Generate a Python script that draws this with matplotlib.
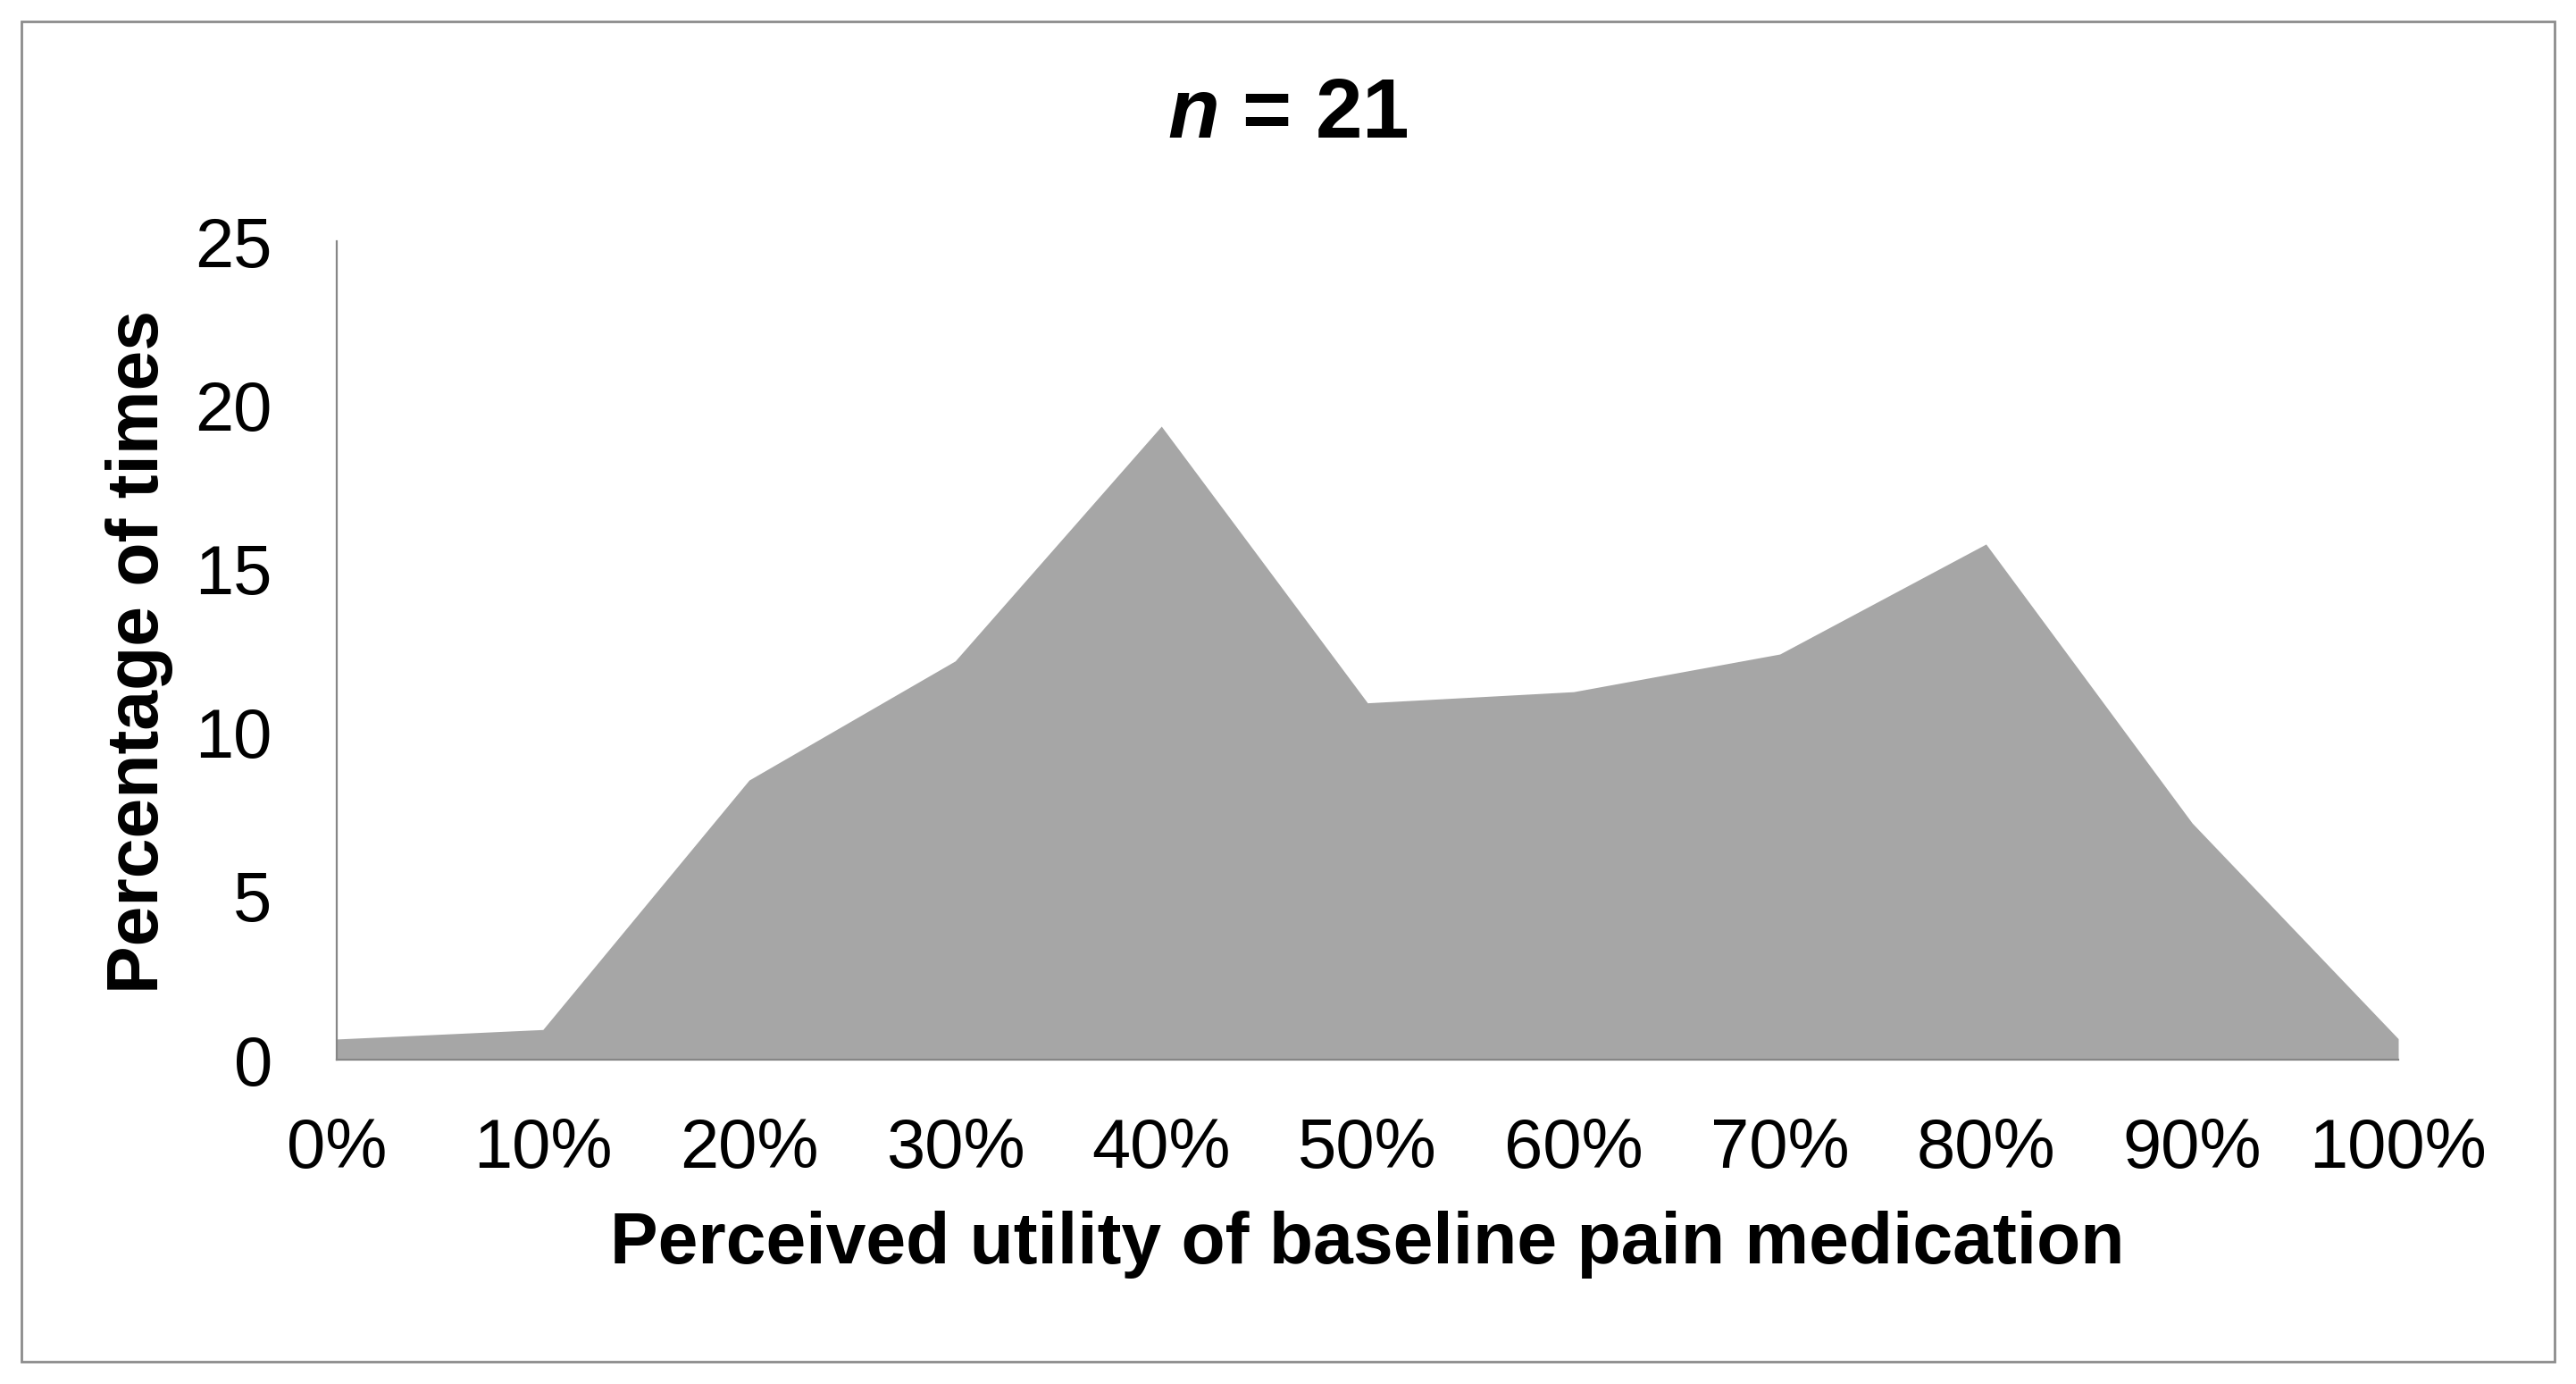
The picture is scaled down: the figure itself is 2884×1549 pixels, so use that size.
import matplotlib
matplotlib.use("Agg")
import matplotlib.pyplot as plt
from matplotlib.patches import Rectangle

plt.rcParams['font.family'] = ['Liberation Sans', 'DejaVu Sans']
plt.rcParams['mathtext.fontset'] = 'custom'
plt.rcParams['mathtext.it'] = 'Liberation Sans:italic:bold'
plt.rcParams['mathtext.rm'] = 'Liberation Sans:bold'

# values
utility = [0, 10, 20, 30, 40, 50, 60, 70, 80, 90, 100]
tick_labels = ['0%', '10%', '20%', '30%', '40%', '50%', '60%', '70%', '80%', '90%', '100%']
pct_times = [0.63, 0.92, 8.54, 12.18, 19.35, 10.9, 11.24, 12.39, 15.75, 7.23, 0.64]
y_ticks = [0, 5, 10, 15, 20, 25]

W, H = 2884, 1549
fig = plt.figure(figsize=(W / 100, H / 100), dpi=100)
ax = fig.add_axes([377 / W, 1 - 1186 / H, (2685 - 377) / W, (1186 - 270) / H])

ax.fill_between(utility, pct_times, 0, color='#a6a6a6', linewidth=0)

ax.set_xlim(0, 100)
ax.set_ylim(0, 25)
ax.set_xticks(utility)
ax.set_xticklabels(tick_labels)
ax.set_yticks(y_ticks)
ax.tick_params(axis='both', length=0, labelsize=56, colors='black')
ax.tick_params(axis='x', pad=46)
ax.tick_params(axis='y', pad=52)

for s in ['top', 'right']:
    ax.spines[s].set_visible(False)
for s in ['left', 'bottom']:
    ax.spines[s].set_color('#868686')
    ax.spines[s].set_linewidth(1.6)

fig.text(1442 / W, 1 - 129 / H, r'$n$ = 21', fontsize=68, fontweight='bold',
         ha='center', va='center')
fig.text(156 / W, 1 - 729 / H, 'Percentage of times', fontsize=58, fontweight='bold',
         rotation=90, ha='center', va='center')
fig.text(1531 / W, 1 - 1393 / H, 'Perceived utility of baseline pain medication',
         fontsize=58, fontweight='bold', ha='center', va='center')

# outer frame
fig.patches.append(Rectangle((24 / W, 1 - 1524 / H), (2860 - 24) / W, (1524 - 24) / H,
                             transform=fig.transFigure, fill=False,
                             edgecolor='#8c8c8c', linewidth=2))

fig.savefig('out.png', dpi=100, facecolor='white')
